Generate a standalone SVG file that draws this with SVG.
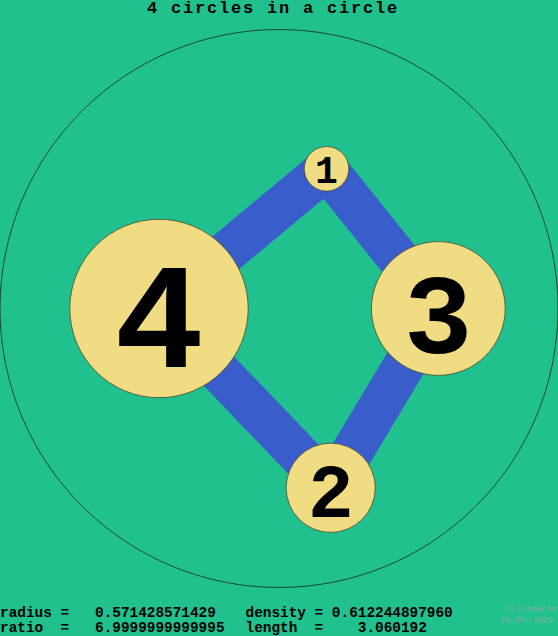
<svg xmlns="http://www.w3.org/2000/svg" width="558" height="636" viewBox="0 0 558 636">
<style>
.mono{font-family:"Liberation Mono","Courier New",monospace;font-weight:bold;fill:#000}
.info{font-size:14.4px}
.edge{stroke:#3a5dcc;stroke-width:42;stroke-linecap:butt;fill:none}
.node circle{fill:#f0dc82;stroke:#4a4a2a;stroke-width:0.8}
.num{text-anchor:middle}
.copy{font-family:"Liberation Mono","Courier New",monospace;font-size:8px;fill:#92aa9e}
</style>
<rect x="0" y="0" width="558" height="636" fill="#21c08f"/>
<text class="mono" x="147" y="12.5" font-size="17" letter-spacing="1.8">4 circles in a circle</text>
<circle id="container" cx="279" cy="308.5" r="279" fill="none" stroke="#1a3a30" stroke-width="0.9"/>
<g id="connectors">
<line class="edge" x1="326.5" y1="168.8" x2="438.3" y2="308.5"/>
<line class="edge" x1="438.3" y1="308.5" x2="330.7" y2="487.8"/>
<line class="edge" x1="330.7" y1="487.8" x2="159" y2="308.5"/>
<line class="edge" x1="159" y1="308.5" x2="326.5" y2="168.8"/>
</g>
<g id="node1" class="node">
<circle cx="326.5" cy="168.8" r="22.3"/>
<text class="mono num" x="326.5" y="183.3" font-size="38">1</text>
</g>
<g id="node2" class="node">
<circle cx="330.7" cy="487.8" r="44.6"/>
<text class="mono num" x="330.7" y="516.8" font-size="76">2</text>
</g>
<g id="node3" class="node">
<circle cx="438.3" cy="308.5" r="66.9"/>
<text class="mono num" x="438.3" y="353" font-size="114">3</text>
</g>
<g id="node4" class="node">
<circle cx="159" cy="308.5" r="89.2"/>
<text class="mono num" x="159" y="366.5" font-size="150">4</text>
</g>
<g id="info">
<text class="mono info" x="0" y="616.5" xml:space="preserve">radius =   0.571428571429</text>
<text class="mono info" x="245.5" y="616.5" xml:space="preserve">density = 0.612244897960</text>
<text class="mono info" x="0" y="632.3" xml:space="preserve">ratio  =   6.9999999999995</text>
<text class="mono info" x="245.5" y="632.3" xml:space="preserve">length  =    3.060192</text>
</g>
<text class="copy" x="508" y="611">© E.Specht</text>
<text class="copy" x="500" y="622">25-JUL-2026</text>
</svg>
